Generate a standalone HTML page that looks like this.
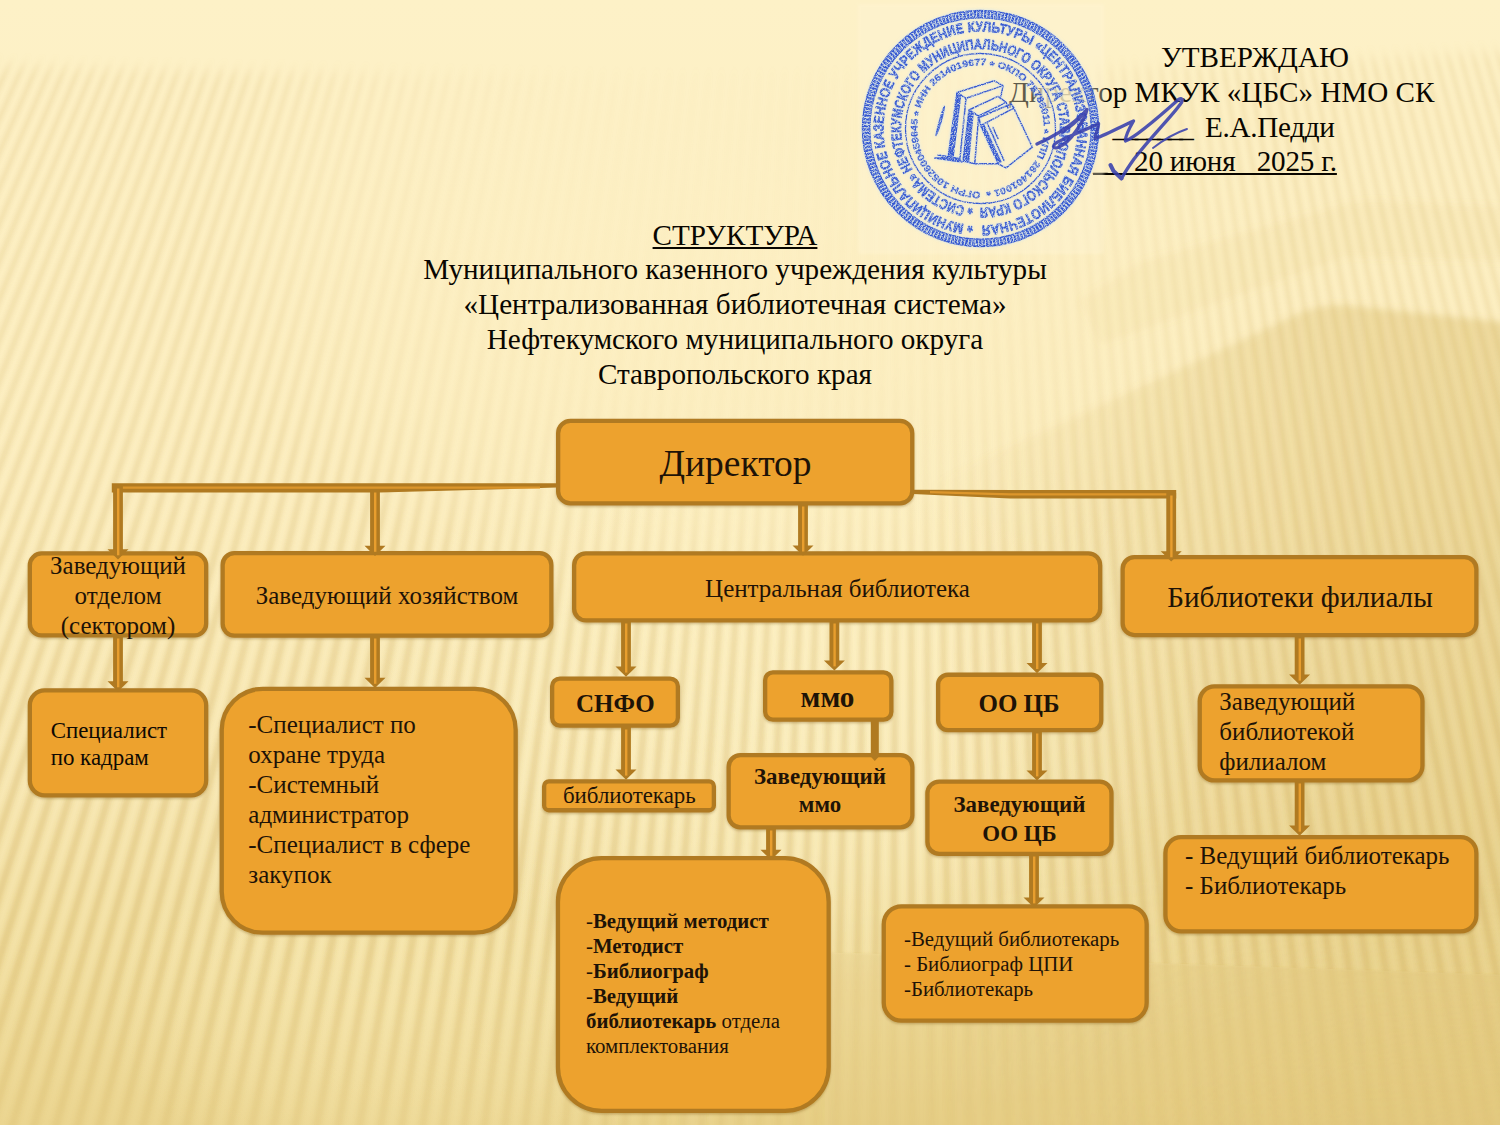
<!DOCTYPE html>
<html><head><meta charset="utf-8"><title>Структура</title>
<style>
html,body{margin:0;padding:0;overflow:hidden;font-family:"Liberation Serif",serif}
html{width:1500px;height:1125px}
body{width:1500px;height:1125px;overflow:hidden;position:relative;background:#FBEBB8;font-family:"Liberation Serif",serif;color:#1E1307}
#bg{position:absolute;left:0;top:0;width:1500px;height:1125px;
 background:linear-gradient(180deg,rgb(253,241,199) 0px,rgb(253,240,197) 120px,rgb(252,238,192) 500px,rgb(248,232,180) 780px,rgb(243,225,165) 950px,rgb(235,213,144) 1125px)}
.bx{position:absolute;background:#EDA22E;border:4.3px solid #B07A20;box-shadow:0 1px 3px rgba(120,80,10,.30)}
.t{position:absolute;white-space:nowrap}
svg{position:absolute;left:0;top:0}
</style></head>
<body>
<div id="bg"></div>
<svg width="1500" height="1125" viewBox="0 0 1500 1125">
<defs>
<filter id="sb" x="-5%" y="-5%" width="110%" height="110%"><feGaussianBlur stdDeviation="2.1"/></filter>
<filter id="b8" x="-10%" y="-10%" width="120%" height="120%"><feGaussianBlur stdDeviation="7"/></filter>
<filter id="b1" x="-10%" y="-10%" width="120%" height="120%"><feGaussianBlur stdDeviation="1.2"/></filter>
<filter id="b3" x="-10%" y="-10%" width="120%" height="120%"><feGaussianBlur stdDeviation="3.5"/></filter>
<linearGradient id="mv" x1="0" y1="0" x2="0" y2="1">
<stop offset="0" stop-color="#8c8c8c"/><stop offset="0.30" stop-color="#9a9a9a"/><stop offset="0.45" stop-color="#c4c4c4"/><stop offset="0.62" stop-color="#f0f0f0"/><stop offset="0.80" stop-color="#fff"/><stop offset="0.90" stop-color="#bbb"/><stop offset="1" stop-color="#5a5a5a"/></linearGradient>
<radialGradient id="mr" cx="740" cy="230" r="540" gradientUnits="userSpaceOnUse" gradientTransform="translate(740 230) scale(1 0.72) translate(-740 -230)">
<stop offset="0" stop-color="#000" stop-opacity="0.93"/><stop offset="0.45" stop-color="#000" stop-opacity="0.86"/><stop offset="0.75" stop-color="#000" stop-opacity="0.5"/><stop offset="1" stop-color="#000" stop-opacity="0"/></radialGradient>
<linearGradient id="mh" x1="0" y1="0" x2="1" y2="0">
<stop offset="0" stop-color="#000" stop-opacity="0"/><stop offset="0.6" stop-color="#000" stop-opacity="0.05"/><stop offset="1" stop-color="#000" stop-opacity="0.08"/></linearGradient>
<mask id="sm" maskUnits="userSpaceOnUse" x="0" y="0" width="1500" height="1125">
<rect width="1500" height="1125" fill="#000"/>
<g filter="url(#b8)"><path d="M-40 64Q750 92 1540 50V1165H-40Z" fill="url(#mv)"/></g>
<rect width="1500" height="1125" fill="url(#mr)"/><rect width="1500" height="1125" fill="url(#mh)"/><path d="M560 947L850 953L1540 976V1165H560Z" fill="url(#fgm)"/></mask>
<linearGradient id="rg" gradientUnits="userSpaceOnUse" x1="0" y1="0" x2="1500" y2="0">
<stop offset="0.62" stop-color="#D6B762" stop-opacity="0"/><stop offset="0.72" stop-color="#D6B762" stop-opacity="0.12"/><stop offset="0.80" stop-color="#D6B762" stop-opacity="0.22"/><stop offset="0.90" stop-color="#D6B762" stop-opacity="0.33"/><stop offset="1" stop-color="#D6B762" stop-opacity="0.38"/></linearGradient>
<linearGradient id="fg" gradientUnits="userSpaceOnUse" x1="0" y1="0" x2="1500" y2="0">
<stop offset="0.40" stop-color="#C8A040" stop-opacity="0"/><stop offset="0.56" stop-color="#C8A040" stop-opacity="0.13"/><stop offset="1" stop-color="#C8A040" stop-opacity="0.13"/></linearGradient>
<linearGradient id="fgm" gradientUnits="userSpaceOnUse" x1="0" y1="0" x2="1500" y2="0">
<stop offset="0.40" stop-color="#000" stop-opacity="0"/><stop offset="0.56" stop-color="#000" stop-opacity="0.6"/><stop offset="1" stop-color="#000" stop-opacity="0.6"/></linearGradient>
<radialGradient id="lb" cx="400" cy="1010" r="300" gradientUnits="userSpaceOnUse" gradientTransform="translate(400 1010) scale(1 0.6) translate(-400 -1010)">
<stop offset="0" stop-color="#FFF3C4" stop-opacity="0.30"/><stop offset="0.6" stop-color="#FFF3C4" stop-opacity="0.17"/><stop offset="1" stop-color="#FFF3C4" stop-opacity="0"/></radialGradient>
<radialGradient id="cb" cx="790" cy="690" r="420" gradientUnits="userSpaceOnUse" gradientTransform="translate(790 690) scale(1 0.7) translate(-790 -690)">
<stop offset="0" stop-color="#FFF5CC" stop-opacity="0.44"/><stop offset="0.55" stop-color="#FFF5CC" stop-opacity="0.30"/><stop offset="1" stop-color="#FFF5CC" stop-opacity="0"/></radialGradient>
<linearGradient id="rgm" x1="0" y1="0" x2="0" y2="1">
<stop offset="0" stop-color="#fff"/><stop offset="0.78" stop-color="#fff"/><stop offset="1" stop-color="#8a8a8a"/></linearGradient>
<mask id="rm" maskUnits="userSpaceOnUse" x="0" y="0" width="1500" height="1125"><rect width="1500" height="1125" fill="url(#rgm)"/></mask>
</defs>
<rect width="1500" height="1125" fill="url(#lb)"/><rect width="1500" height="1125" fill="url(#cb)"/>
<g mask="url(#rm)"><path d="M740 570L1048 430L1300 313Q1325 303 1352 306L1540 326V1165H740Z" fill="url(#rg)" filter="url(#b3)"/></g>
<path d="M1080 300L1140 262L1350 203Q1372 199 1392 202L1540 208V262L1345 257L1100 345Z" fill="#D8BA68" fill-opacity="0.085" filter="url(#b3)"/>
<path d="M560 947L850 953L1540 976V1165H560Z" fill="url(#fg)" filter="url(#b1)"/>
<g mask="url(#sm)"><path d="M-10.4 -20L-4.9 -20L-560.5 1145L-569.3 1145ZM3.3 -20L8.8 -20L-538.5 1145L-547.3 1145ZM17.0 -20L22.5 -20L-516.5 1145L-525.3 1145ZM30.7 -20L36.1 -20L-494.4 1145L-503.2 1145ZM44.3 -20L49.8 -20L-472.4 1145L-481.2 1145ZM58.0 -20L63.5 -20L-450.4 1145L-459.2 1145ZM71.7 -20L77.2 -20L-428.4 1145L-437.2 1145ZM85.4 -20L90.8 -20L-406.4 1145L-415.2 1145ZM99.0 -20L104.5 -20L-384.4 1145L-393.2 1145ZM112.7 -20L118.2 -20L-362.4 1145L-371.2 1145ZM126.4 -20L131.8 -20L-340.4 1145L-349.2 1145ZM140.0 -20L145.5 -20L-318.4 1145L-327.2 1145ZM153.7 -20L159.2 -20L-296.4 1145L-305.2 1145ZM167.4 -20L172.8 -20L-274.4 1145L-283.2 1145ZM181.0 -20L186.5 -20L-252.4 1145L-261.2 1145ZM194.7 -20L200.1 -20L-230.4 1145L-239.2 1145ZM208.3 -20L213.8 -20L-208.4 1145L-217.2 1145ZM222.0 -20L227.4 -20L-186.5 1145L-195.3 1145ZM235.6 -20L241.1 -20L-164.5 1145L-173.3 1145ZM249.3 -20L254.7 -20L-142.5 1145L-151.3 1145ZM262.9 -20L268.4 -20L-120.6 1145L-129.4 1145ZM276.5 -20L282.0 -20L-98.6 1145L-107.4 1145ZM290.2 -20L295.6 -20L-76.7 1145L-85.5 1145ZM303.8 -20L309.3 -20L-54.7 1145L-63.5 1145ZM317.4 -20L322.9 -20L-32.8 1145L-41.6 1145ZM331.1 -20L336.5 -20L-10.8 1145L-19.6 1145ZM344.7 -20L350.1 -20L11.1 1145L2.3 1145ZM358.3 -20L363.8 -20L33.0 1145L24.3 1145ZM371.9 -20L377.4 -20L55.0 1145L46.2 1145ZM385.6 -20L391.0 -20L76.9 1145L68.1 1145ZM399.2 -20L404.6 -20L98.8 1145L90.0 1145ZM412.8 -20L418.2 -20L120.7 1145L111.9 1145ZM426.4 -20L431.8 -20L142.6 1145L133.9 1145ZM440.0 -20L445.4 -20L164.5 1145L155.8 1145ZM453.6 -20L459.1 -20L186.4 1145L177.7 1145ZM467.2 -20L472.7 -20L208.3 1145L199.6 1145ZM480.8 -20L486.3 -20L230.2 1145L221.5 1145ZM494.4 -20L499.9 -20L252.1 1145L243.4 1145ZM508.0 -20L513.4 -20L274.0 1145L265.3 1145ZM521.6 -20L527.0 -20L295.8 1145L287.1 1145ZM535.1 -20L540.4 -20L317.5 1145L308.8 1145ZM548.5 -20L553.8 -20L339.0 1145L330.4 1145ZM561.8 -20L567.1 -20L360.4 1145L351.8 1145ZM575.0 -20L580.3 -20L381.6 1145L373.2 1145ZM588.2 -20L593.4 -20L402.7 1145L394.3 1145ZM601.3 -20L606.4 -20L423.7 1145L415.4 1145ZM614.2 -20L619.4 -20L444.6 1145L436.3 1145ZM627.1 -20L632.3 -20L465.3 1145L457.1 1145ZM640.0 -20L645.1 -20L485.9 1145L477.7 1145ZM652.7 -20L657.8 -20L506.4 1145L498.2 1145ZM665.4 -20L670.4 -20L526.7 1145L518.6 1145ZM678.0 -20L683.0 -20L546.9 1145L538.9 1145ZM690.5 -20L695.5 -20L567.0 1145L559.0 1145ZM702.9 -20L707.9 -20L587.0 1145L579.0 1145ZM715.3 -20L720.2 -20L606.8 1145L598.9 1145ZM727.5 -20L732.4 -20L626.5 1145L618.7 1145ZM739.7 -20L744.6 -20L646.1 1145L638.3 1145ZM751.9 -20L756.7 -20L665.6 1145L657.8 1145ZM763.9 -20L768.7 -20L685.0 1145L677.2 1145ZM775.9 -20L780.7 -20L704.2 1145L696.5 1145ZM787.8 -20L792.6 -20L723.4 1145L715.7 1145ZM799.8 -20L804.5 -20L742.7 1145L735.0 1145ZM811.7 -20L816.5 -20L761.9 1145L754.2 1145ZM823.7 -20L828.4 -20L781.1 1145L773.4 1145ZM835.6 -20L840.4 -20L800.4 1145L792.7 1145ZM847.6 -20L852.3 -20L819.6 1145L811.9 1145ZM859.5 -20L864.3 -20L838.9 1145L831.2 1145ZM871.5 -20L876.3 -20L858.1 1145L850.4 1145ZM883.4 -20L888.2 -20L877.4 1145L869.7 1145ZM895.4 -20L900.2 -20L896.7 1145L888.9 1145ZM907.4 -20L912.2 -20L915.9 1145L908.2 1145ZM919.3 -20L924.1 -20L935.2 1145L927.5 1145ZM931.3 -20L936.1 -20L954.5 1145L946.8 1145ZM943.3 -20L948.1 -20L973.8 1145L966.1 1145ZM955.3 -20L960.1 -20L993.1 1145L985.3 1145ZM967.3 -20L972.1 -20L1012.4 1145L1004.6 1145ZM979.3 -20L984.0 -20L1031.7 1145L1023.9 1145ZM991.2 -20L996.0 -20L1051.0 1145L1043.2 1145ZM1003.2 -20L1008.0 -20L1070.3 1145L1062.5 1145ZM1015.2 -20L1020.0 -20L1089.6 1145L1081.9 1145ZM1027.2 -20L1032.0 -20L1108.9 1145L1101.2 1145ZM1039.2 -20L1044.0 -20L1128.2 1145L1120.5 1145ZM1051.2 -20L1056.0 -20L1147.6 1145L1139.8 1145ZM1063.2 -20L1068.1 -20L1166.9 1145L1159.2 1145ZM1075.3 -20L1080.1 -20L1186.2 1145L1178.5 1145ZM1087.3 -20L1092.1 -20L1205.6 1145L1197.8 1145ZM1099.3 -20L1104.1 -20L1224.9 1145L1217.2 1145ZM1111.3 -20L1116.1 -20L1244.3 1145L1236.5 1145ZM1123.3 -20L1128.1 -20L1263.6 1145L1255.9 1145ZM1135.4 -20L1140.2 -20L1283.0 1145L1275.3 1145ZM1147.4 -20L1152.2 -20L1302.4 1145L1294.6 1145ZM1159.4 -20L1164.2 -20L1321.7 1145L1314.0 1145ZM1171.5 -20L1176.3 -20L1341.1 1145L1333.4 1145ZM1183.5 -20L1188.3 -20L1360.5 1145L1352.7 1145ZM1195.5 -20L1200.3 -20L1379.9 1145L1372.1 1145ZM1207.6 -20L1212.4 -20L1399.3 1145L1391.5 1145ZM1219.6 -20L1224.4 -20L1418.7 1145L1410.9 1145ZM1231.7 -20L1236.5 -20L1438.1 1145L1430.3 1145ZM1243.7 -20L1248.5 -20L1457.5 1145L1449.7 1145ZM1255.8 -20L1260.6 -20L1476.9 1145L1469.1 1145ZM1267.8 -20L1272.7 -20L1496.3 1145L1488.5 1145ZM1279.9 -20L1284.7 -20L1515.7 1145L1508.0 1145ZM1292.0 -20L1296.8 -20L1535.2 1145L1527.4 1145ZM1304.0 -20L1308.9 -20L1554.6 1145L1546.8 1145ZM1316.1 -20L1320.9 -20L1574.0 1145L1566.3 1145ZM1328.2 -20L1333.0 -20L1593.5 1145L1585.7 1145ZM1340.3 -20L1345.1 -20L1612.9 1145L1605.1 1145ZM1352.3 -20L1357.2 -20L1632.4 1145L1624.6 1145ZM1364.4 -20L1369.2 -20L1651.8 1145L1644.0 1145ZM1376.5 -20L1381.3 -20L1671.3 1145L1663.5 1145ZM1388.6 -20L1393.4 -20L1690.7 1145L1682.9 1145ZM1400.7 -20L1405.5 -20L1710.2 1145L1702.4 1145ZM1412.8 -20L1417.6 -20L1729.6 1145L1721.9 1145ZM1424.9 -20L1429.7 -20L1749.1 1145L1741.3 1145ZM1437.0 -20L1441.8 -20L1768.6 1145L1760.8 1145ZM1449.0 -20L1453.9 -20L1788.1 1145L1780.3 1145ZM1461.1 -20L1466.0 -20L1807.6 1145L1799.8 1145ZM1473.3 -20L1478.1 -20L1827.0 1145L1819.2 1145ZM1485.4 -20L1490.2 -20L1846.5 1145L1838.7 1145ZM1497.5 -20L1502.3 -20L1866.0 1145L1858.2 1145ZM1509.6 -20L1514.4 -20L1885.5 1145L1877.7 1145Z" fill="#C0963C" fill-opacity="0.265" filter="url(#sb)"/></g>
</svg>
<div class="t" style="left:1161.0px;top:40.1px;font-size:29.17px;line-height:35px;color:#090600;">УТВЕРЖДАЮ</div><div class="t" style="left:1009.0px;top:74.9px;font-size:29.17px;line-height:35px;color:#090600;">Директор МКУК «ЦБС» НМО СК</div><div class="t" style="left:1112.5px;top:110.1px;font-size:29.17px;line-height:35px;color:#090600;letter-spacing:-3.45px;">_______</div><div class="t" style="left:1205.0px;top:110.1px;font-size:29.17px;line-height:35px;color:#090600;letter-spacing:-0.3px;">Е.А.Педди</div><div class="t" style="left:1093.0px;top:144.3px;font-size:29.17px;line-height:35px;color:#090600;letter-spacing:-1.5px;"><u>_&nbsp;&nbsp;&nbsp;&nbsp;&nbsp;</u></div><div class="t" style="left:1134.0px;top:144.3px;font-size:29.17px;line-height:35px;color:#090600;letter-spacing:-0.2px;"><u>20 июня&nbsp;&nbsp; 2025 г.</u></div><div class="t" style="left:335.0px;width:800.0px;text-align:center;top:217.7px;font-size:29.17px;line-height:34.7px;color:#090600;"><u>СТРУКТУРА</u><br>Муниципального казенного учреждения культуры<br>«Централизованная библиотечная система»<br>Нефтекумского муниципального округа<br>Ставропольского края</div>
<svg width="1500" height="1125" viewBox="0 0 1500 1125">
<defs>
<filter id="ink" x="-5%" y="-5%" width="110%" height="110%">
<feTurbulence type="fractalNoise" baseFrequency="0.9" numOctaves="2" seed="7" result="n"/>
<feColorMatrix in="n" type="matrix" values="0 0 0 0 0  0 0 0 0 0  0 0 0 0 0  0 0 0 -2.4 2.0" result="m"/>
<feComposite in="SourceGraphic" in2="m" operator="in" result="c"/>
<feGaussianBlur in="c" stdDeviation="0.45"/>
</filter>
<filter id="halo" x="-5%" y="-5%" width="110%" height="110%"><feGaussianBlur stdDeviation="1.6"/></filter>
<filter id="halo2" x="-5%" y="-5%" width="110%" height="110%"><feGaussianBlur stdDeviation="1.5"/><feColorMatrix type="matrix" values="0 0 0 0 0.55  0 0 0 0 0.74  0 0 0 0 0.96  0 0 0 1.5 0"/></filter>
<path id="r1" d="M980.5 225.5A97 97 0 1 1 980.5 31.5A97 97 0 1 1 980.5 225.5" fill="none"/><path id="r2" d="M980.5 207.8A79.3 79.3 0 1 1 980.5 49.2A79.3 79.3 0 1 1 980.5 207.8" fill="none"/><path id="r3" d="M980.5 191.8A63.3 63.3 0 1 1 980.5 65.2A63.3 63.3 0 1 1 980.5 191.8" fill="none"/>
<g id="stampg">
<circle cx="980.5" cy="128.5" r="114.5" fill="none" stroke="#2C50D0" stroke-width="6.5" stroke-dasharray="2.6 0.9"/>
<circle cx="980.5" cy="128.5" r="118" fill="none" stroke="#2C50D0" stroke-width="1.5" /><circle cx="980.5" cy="128.5" r="110.8" fill="none" stroke="#2C50D0" stroke-width="1.5" />
<circle cx="980.5" cy="128.5" r="75" fill="none" stroke="#2C50D0" stroke-width="1.3" />
<text font-family="Liberation Sans, sans-serif" font-weight="bold" font-size="14.3" fill="#2C50D0" textLength="600.3" lengthAdjust="spacingAndGlyphs" stroke="#2C50D0" stroke-width="0.55"><textPath href="#r1" startOffset="7.3"><tspan dy="4.5" font-size="17">*</tspan><tspan dy="-4.5"> </tspan> МУНИЦИПАЛЬНОЕ КАЗЕННОЕ УЧРЕЖДЕНИЕ КУЛЬТУРЫ «ЦЕНТРАЛИЗОВАННАЯ БИБЛИОТЕЧНАЯ</textPath></text>
<text font-family="Liberation Sans, sans-serif" font-weight="bold" font-size="14.6" fill="#2C50D0" textLength="490.8" lengthAdjust="spacingAndGlyphs" stroke="#2C50D0" stroke-width="0.55"><textPath href="#r2" startOffset="7.5"><tspan dy="4.5" font-size="17">*</tspan><tspan dy="-4.5"> </tspan> СИСТЕМА» НЕФТЕКУМСКОГО МУНИЦИПАЛЬНОГО ОКРУГА СТАВРОПОЛЬСКОГО КРАЯ</textPath></text>
<text font-family="Liberation Sans, sans-serif" font-weight="bold" font-size="9.3" fill="#2C50D0" textLength="391.8" lengthAdjust="spacingAndGlyphs" stroke="#2C50D0" stroke-width="0.3"><textPath href="#r3" startOffset="0.0">ОГРН 1052600459645 <tspan dy="3" font-size="11">*</tspan><tspan dy="-3"> </tspan> ИНН 2614019677 <tspan dy="3" font-size="11">*</tspan><tspan dy="-3"> </tspan> ОКПО 78786011 <tspan dy="3" font-size="11">*</tspan><tspan dy="-3"> </tspan> КПП 261401001 <tspan dy="3" font-size="11">*</tspan><tspan dy="-3"> </tspan></textPath></text>
<path d="M957 92.5L994.3 80.8L1003 85.6L966 98.3Z M957 92.5L948.3 156 M966 98.3L960 158 M960.5 96L953 157 M1003 85.6L1001 96 M969 110L998 96.4L1006 102.3L978.7 116Z M969 110L963 161 M978.7 116L974.7 163.8L963 161 M973 113L968.5 162 M1006 102.3L1008 108 M980.6 125.7L1013.8 108.1L1032.4 147.2L1006 167.8L998.2 163.8Z M984 125.5L1001 162 M987.5 124L1004 160.5 M978 118L1011 104L1014 108 M978.7 116L980.6 125.7 M990 129L995 140 M993 127.5L998 138.5 M944.4 106C941 115 938 126 936 135.5C940 127 943 116 944.4 106Z M934.7 158L962 162 M938 155L950 157 M974.7 163.8L998.2 163.8 M963 161L974.7 163.8" fill="none" stroke="#2C50D0" stroke-width="1.5" stroke-linejoin="round" stroke-linecap="round"/>
<path d="M948.3 156L957 92.5L960.5 96L953 157Z M963 161L969 110L973 113L968.5 162Z M998.2 163.8L980.6 125.7L984 125.5L1001 162Z M934.7 158L962 162L960 158L948.3 156Z" fill="#2C50D0" stroke="none"/>
</g>
</defs>
<rect x="858" y="4" width="246" height="250" fill="#FFF6D8" opacity="0.35" filter="url(#halo)"/>
<rect x="1040" y="78" width="48" height="30" rx="6" fill="#FDF0C6" opacity="0.72" filter="url(#halo)"/>
<use href="#stampg" opacity="0.55" filter="url(#halo2)"/>
<use href="#stampg" filter="url(#ink)" opacity="0.95"/>
<g fill="none" stroke="#3840AE" stroke-linecap="round" stroke-linejoin="round" opacity="0.88">
<path d="M1037 144C1050 138 1066 129 1075 121C1081 116 1085 112 1087 109.500C1086 115 1081 124 1076 131C1072 137 1066 144 1058 147.500C1053 149 1052 146 1056 143C1066 137 1086 130 1098.500 123.500C1099 128 1095 134 1095 138.500C1102 137 1120 127 1133.500 121C1130 127 1125 136 1125.500 141C1136 137 1160 116 1178.500 99.500C1183 97 1183 101 1180.500 104C1172 116 1150 138 1134 159C1129 166 1124.500 173 1121.500 178.500" stroke-width="3.3"/>
<path d="M1121.5 178.5L1113.5 171L1110.5 165" stroke-width="4"/>
<path d="M1062 132C1070 127 1079 119 1085.500 112" stroke-width="3.4"/>
<path d="M1153 148C1162 141 1175 133 1187 129" stroke-width="1.9"/>
</g>
</svg>
<svg width="1500" height="1125" viewBox="0 0 1500 1125"><defs><filter id="bsh" x="-5%" y="-5%" width="110%" height="115%"><feDropShadow dx="0" dy="1.4" stdDeviation="1.2" flood-color="#6e4a08" flood-opacity="0.32"/></filter></defs><g fill="#EDA22E" stroke="#B07A20" stroke-width="4.3" filter="url(#bsh)"><rect x="558.15" y="420.95" width="354.10" height="82.50" rx="12.3"/><rect x="29.85" y="553.45" width="176.30" height="82.00" rx="11.8"/><rect x="222.65" y="553.15" width="328.70" height="82.50" rx="11.8"/><rect x="574.15" y="553.35" width="526.00" height="67.10" rx="11.8"/><rect x="1122.65" y="557.15" width="353.70" height="77.90" rx="11.8"/><rect x="29.85" y="690.35" width="176.30" height="105.00" rx="14.8"/><rect x="221.75" y="688.95" width="293.90" height="243.70" rx="40.9"/><rect x="552.15" y="678.55" width="125.70" height="47.10" rx="7.8"/><rect x="544.15" y="781.45" width="169.70" height="28.80" rx="4.8"/><rect x="765.15" y="672.35" width="126.20" height="47.30" rx="7.8"/><rect x="728.65" y="755.15" width="183.70" height="72.20" rx="11.8"/><rect x="557.95" y="858.15" width="270.70" height="252.70" rx="43.9"/><rect x="938.15" y="674.75" width="163.10" height="55.30" rx="9.8"/><rect x="927.45" y="781.55" width="184.00" height="72.30" rx="11.8"/><rect x="883.75" y="906.35" width="262.90" height="114.30" rx="17.9"/><rect x="1199.75" y="686.35" width="222.70" height="94.10" rx="14.8"/><rect x="1165.45" y="837.15" width="310.90" height="94.20" rx="15.8"/></g><path d="M111.8 483.2H557V487.6L380 492.6H111.8Z" fill="#B07A21"/>
<path d="M118 487.6H540" stroke="#E89E2E" stroke-width="2.2" opacity="0.8"/>
<path d="M913 489.8L1176.2 490V498.6H1010L913 494Z" fill="#B07A21"/>
<path d="M930 492.2L1010 494.3H1169" stroke="#E89E2E" stroke-width="2.2" fill="none" opacity="0.8"/>
<path d="M870.8 720H878.8V754H881.3L874.8 761L868.3 754H870.8Z" fill="#B07A21"/>
<path d="M113.1 486H122.9V549.3H128.5L118 559.5L107.5 549.3H113.1Z" fill="#B07A21"/><path d="M118.2 488.5V555.3" stroke="#E89E2E" stroke-width="2.4" fill="none"/>
<path d="M370.1 490H379.9V545.8H385.5L375 556L364.5 545.8H370.1Z" fill="#B07A21"/><path d="M375.2 492.5V551.8" stroke="#E89E2E" stroke-width="2.4" fill="none"/>
<path d="M798.1 504H807.9V545.5H813.5L803 555.7L792.5 545.5H798.1Z" fill="#B07A21"/><path d="M803.2 506.5V551.5" stroke="#E89E2E" stroke-width="2.4" fill="none"/>
<path d="M1166.3 493H1176.1000000000001V551.3H1181.7L1171.2 561.5L1160.7 551.3H1166.3Z" fill="#B07A21"/><path d="M1171.4 495.5V557.3" stroke="#E89E2E" stroke-width="2.4" fill="none"/>
<path d="M113.1 636H122.9V681.3H128.5L118 691.5L107.5 681.3H113.1Z" fill="#B07A21"/><path d="M118.2 638.5V687.3" stroke="#E89E2E" stroke-width="2.4" fill="none"/>
<path d="M370.1 636H379.9V677.8H385.5L375 688L364.5 677.8H370.1Z" fill="#B07A21"/><path d="M375.2 638.5V683.8" stroke="#E89E2E" stroke-width="2.4" fill="none"/>
<path d="M621.1 621H630.9V666.5999999999999H636.5L626 676.8L615.5 666.5999999999999H621.1Z" fill="#B07A21"/><path d="M626.2 623.5V672.5999999999999" stroke="#E89E2E" stroke-width="2.4" fill="none"/>
<path d="M829.5 621H839.3V660.4H844.9L834.4 670.6L823.9 660.4H829.5Z" fill="#B07A21"/><path d="M834.6 623.5V666.4" stroke="#E89E2E" stroke-width="2.4" fill="none"/>
<path d="M1032.1 621H1041.9V663.0H1047.5L1037 673.2L1026.5 663.0H1032.1Z" fill="#B07A21"/><path d="M1037.2 623.5V669.0" stroke="#E89E2E" stroke-width="2.4" fill="none"/>
<path d="M621.1 727H630.9V769.5999999999999H636.5L626 779.8L615.5 769.5999999999999H621.1Z" fill="#B07A21"/><path d="M626.2 729.5V775.5999999999999" stroke="#E89E2E" stroke-width="2.4" fill="none"/>
<path d="M1032.1 731H1041.9V770.4H1047.5L1037 780.6L1026.5 770.4H1032.1Z" fill="#B07A21"/><path d="M1037.2 733.5V776.4" stroke="#E89E2E" stroke-width="2.4" fill="none"/>
<path d="M766.1 828H775.9V849.8H781.5L771 860L760.5 849.8H766.1Z" fill="#B07A21"/><path d="M771.2 830.5V855.8" stroke="#E89E2E" stroke-width="2.4" fill="none"/>
<path d="M1029.1 854H1038.9V897.4H1044.5L1034 907.6L1023.5 897.4H1029.1Z" fill="#B07A21"/><path d="M1034.2 856.5V903.4" stroke="#E89E2E" stroke-width="2.4" fill="none"/>
<path d="M1294.6999999999998 636H1304.5V674.5999999999999H1310.1L1299.6 684.8L1289.1 674.5999999999999H1294.6999999999998Z" fill="#B07A21"/><path d="M1299.8 638.5V680.5999999999999" stroke="#E89E2E" stroke-width="2.4" fill="none"/>
<path d="M1294.6999999999998 781H1304.5V825.5999999999999H1310.1L1299.6 835.8L1289.1 825.5999999999999H1294.6999999999998Z" fill="#B07A21"/><path d="M1299.8 783.5V831.5999999999999" stroke="#E89E2E" stroke-width="2.4" fill="none"/></svg>
<div class="t" style="left:335.5px;width:800.0px;text-align:center;top:440.6px;font-size:37.5px;line-height:45.0px;color:#1E1307;">Директор</div><div class="t" style="left:1.0px;width:234.0px;text-align:center;top:550.7px;font-size:25px;line-height:30px;color:#1E1307;">Заведующий<br>отделом<br>(сектором)</div><div class="t" style="left:1.0px;width:772.0px;text-align:center;top:580.7px;font-size:25px;line-height:30px;color:#1E1307;">Заведующий хозяйством</div><div class="t" style="left:437.5px;width:800.0px;text-align:center;top:574.1px;font-size:25px;line-height:30px;color:#1E1307;">Центральная библиотека</div><div class="t" style="left:1101.0px;width:398.0px;text-align:center;top:580.2px;font-size:29.17px;line-height:35px;color:#1E1307;">Библиотеки филиалы</div><div class="t" style="left:50.7px;top:716.5px;font-size:22.9px;line-height:27.7px;color:#0E0903;">Специалист<br>по кадрам</div><div class="t" style="left:248.3px;top:709.6px;font-size:25px;line-height:30.05px;color:#1E1307;">-Специалист по<br>охране труда<br>-Системный<br>администратор<br>-Специалист в сфере<br>закупок</div><div class="t" style="left:215.3px;width:800.0px;text-align:center;top:689.1px;font-size:25px;line-height:30px;font-weight:bold;color:#1E1307;">СНФО</div><div class="t" style="left:229.3px;width:800.0px;text-align:center;top:782.3px;font-size:22.9px;line-height:27px;color:#1E1307;">библиотекарь</div><div class="t" style="left:427.5px;width:800.0px;text-align:center;top:680.2px;font-size:29.17px;line-height:35px;font-weight:bold;color:#1E1307;">ммо</div><div class="t" style="left:420.0px;width:800.0px;text-align:center;top:763.4px;font-size:22.9px;line-height:27.3px;font-weight:bold;color:#1E1307;">Заведующий<br>ммо</div><div class="t" style="left:586.0px;top:908.7px;font-size:20.83px;line-height:25.1px;color:#1E1307;">-<b>Ведущий методист</b><br>-<b>Методист</b><br>-<b>Библиограф</b><br>-<b>Ведущий</b><br><b>библиотекарь</b> отдела<br>комплектования</div><div class="t" style="left:619.0px;width:800.0px;text-align:center;top:689.1px;font-size:25px;line-height:30px;font-weight:bold;color:#1E1307;">ОО ЦБ</div><div class="t" style="left:619.5px;width:800.0px;text-align:center;top:791.4px;font-size:22.9px;line-height:28.6px;font-weight:bold;color:#1E1307;">Заведующий<br>ОО ЦБ</div><div class="t" style="left:904.0px;top:927.3px;font-size:20.83px;line-height:25px;color:#1E1307;">-Ведущий библиотекарь<br>- Библиограф ЦПИ<br>-Библиотекарь</div><div class="t" style="left:1219.3px;top:686.7px;font-size:25px;line-height:30px;color:#1E1307;">Заведующий<br>библиотекой<br>филиалом</div><div class="t" style="left:1185.0px;top:840.7px;font-size:25px;line-height:30px;color:#1E1307;">- Ведущий библиотекарь<br>- Библиотекарь</div>
</body></html>
